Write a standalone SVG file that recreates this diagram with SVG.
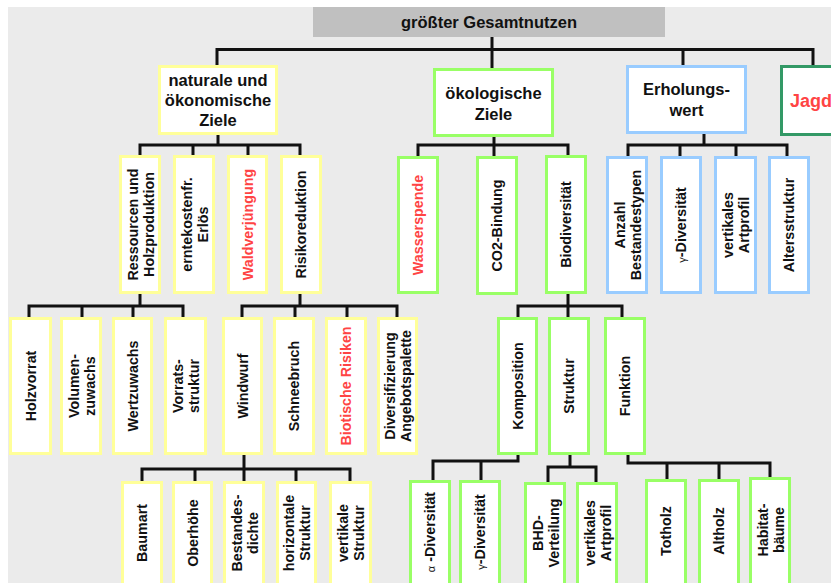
<svg xmlns="http://www.w3.org/2000/svg" width="831" height="583" viewBox="0 0 831 583">
<style>
.bg{fill:#ebebeb}
rect.n{fill:#ffffff;stroke-width:3}
.y{stroke:#ffff99}
.g{stroke:#99ff66}
.b{stroke:#99ccff}
.dg{stroke:#339966}
text{font-family:"Liberation Sans",Arial,sans-serif;font-weight:bold;fill:#111111}
.h{font-size:16.5px;text-anchor:middle}
.v{font-size:14.3px;text-anchor:middle}
.red{fill:#ff4444}
.gr{font-size:11px;font-weight:normal}
#connectors path{fill:none;stroke:#111111;stroke-width:3}
</style>
<rect class="bg" x="8" y="7" width="823" height="576"/>
<g id="connectors">
<path d="M492,37V68"/>
<path d="M217,65V49.5H813V65"/>
<path d="M683,49.5V65"/>
<path d="M218,135V145"/>
<path d="M140,155V145H300V155M193,145V155M248,145V155"/>
<path d="M494,137V156"/>
<path d="M418,156V145H568V155"/>
<path d="M704,134V145"/>
<path d="M628,156V145H787V156M680,145V156M736,145V156"/>
<path d="M140,293V306"/>
<path d="M29,317V306H183V317M82,306V317M133,306V317"/>
<path d="M300,293V306"/>
<path d="M242,317V306H397V317M295,306V317M347,306V317"/>
<path d="M568,294V317"/>
<path d="M518,317V306H622V317"/>
<path d="M244,455V481"/>
<path d="M142,481V469H350V481M195,469V481M296,469V481"/>
<path d="M518,455V461H433V480M481,461V480"/>
<path d="M570,455V467"/>
<path d="M548,482V467H596V482"/>
<path d="M628,455V463H770V477M667,463V479M719,463V479"/>
</g>
<g id="title">
<rect x="313" y="7" width="352" height="30" fill="#c0c0c0"/>
<text class="h" x="489" y="28">größter Gesamtnutzen</text>
</g>
<g id="naturale">
<rect class="n y" x="159.5" y="66.5" width="117" height="67"/>
<text class="h" x="218" y="86">naturale und</text>
<text class="h" x="218" y="106">ökonomische</text>
<text class="h" x="218" y="126">Ziele</text>
</g>
<g id="oekologische">
<rect class="n g" x="434.5" y="69.5" width="118" height="66"/>
<text class="h" x="493.5" y="99">ökologische</text>
<text class="h" x="493.5" y="120">Ziele</text>
</g>
<g id="erholungswert">
<rect class="n b" x="627.5" y="66.5" width="118" height="66"/>
<text class="h" x="686.5" y="95">Erholungs-</text>
<text class="h" x="686.5" y="116">wert</text>
</g>
<g id="jagd">
<rect class="n dg" x="781.5" y="66.5" width="120" height="68"/>
<text x="790" y="107" font-size="18px" class="red">Jagd</text>
</g>
<!-- Level 2 -->
<g id="ressourcen">
<rect class="n y" x="120.5" y="156.5" width="39" height="136"/>
<text class="v" transform="translate(140,224.5) rotate(-90)"><tspan x="0" y="-2.5">Ressourcen und</tspan><tspan x="0" y="13.5">Holzproduktion</tspan></text>
</g>
<g id="erntekosten">
<rect class="n y" x="174.5" y="156.5" width="39" height="136"/>
<text class="v" transform="translate(194,224.5) rotate(-90)"><tspan x="0" y="-2.5">erntekostenfr.</tspan><tspan x="0" y="13.5">Erlös</tspan></text>
</g>
<g id="waldverjuengung">
<rect class="n y" x="228.5" y="156.5" width="38" height="136"/>
<text class="v red" transform="translate(247.5,224.5) rotate(-90)" x="0" y="5">Waldverjüngung</text>
</g>
<g id="risikoreduktion">
<rect class="n y" x="281.5" y="156.5" width="39" height="136"/>
<text class="v" transform="translate(301,224.5) rotate(-90)" x="0" y="5">Risikoreduktion</text>
</g>
<g id="wasserspende">
<rect class="n g" x="398.5" y="157.5" width="39" height="135"/>
<text class="v red" transform="translate(418,225) rotate(-90)" x="0" y="5">Wasserspende</text>
</g>
<g id="co2">
<rect class="n g" x="477.5" y="157.5" width="39" height="136"/>
<text class="v" transform="translate(497,225.5) rotate(-90)" x="0" y="5">CO2-Bindung</text>
</g>
<g id="biodiversitaet">
<rect class="n g" x="546.5" y="156.5" width="39" height="136"/>
<text class="v" transform="translate(566,224.5) rotate(-90)" x="0" y="5">Biodiversität</text>
</g>
<g id="anzahl">
<rect class="n b" x="607.5" y="157.5" width="39" height="135"/>
<text class="v" transform="translate(627,225) rotate(-90)"><tspan x="0" y="-2.5">Anzahl</tspan><tspan x="0" y="13.5">Bestandestypen</tspan></text>
</g>
<g id="gamma1">
<rect class="n b" x="661.5" y="157.5" width="39" height="135"/>
<text class="v" transform="translate(681,225) rotate(-90)" x="0" y="5"><tspan class="gr">γ</tspan>-Diversität</text>
</g>
<g id="vertartprofil1">
<rect class="n b" x="715.5" y="157.5" width="40" height="135"/>
<text class="v" transform="translate(735.5,225) rotate(-90)"><tspan x="0" y="-2.5">vertikales</tspan><tspan x="0" y="13.5">Artprofil</tspan></text>
</g>
<g id="altersstruktur">
<rect class="n b" x="769.5" y="157.5" width="39" height="135"/>
<text class="v" transform="translate(789,225) rotate(-90)" x="0" y="5">Altersstruktur</text>
</g>
<!-- Level 3 -->
<g id="holzvorrat">
<rect class="n y" x="10.5" y="318.5" width="40" height="135"/>
<text class="v" transform="translate(30.5,386) rotate(-90)" x="0" y="5">Holzvorrat</text>
</g>
<g id="volumenzuwachs">
<rect class="n y" x="61.5" y="318.5" width="39" height="135"/>
<text class="v" transform="translate(81,386) rotate(-90)"><tspan x="0" y="-2.5">Volumen-</tspan><tspan x="0" y="13.5">zuwachs</tspan></text>
</g>
<g id="wertzuwachs">
<rect class="n y" x="113.5" y="318.5" width="38" height="135"/>
<text class="v" transform="translate(132.5,386) rotate(-90)" x="0" y="5">Wertzuwachs</text>
</g>
<g id="vorratsstruktur">
<rect class="n y" x="165.5" y="318.5" width="40" height="135"/>
<text class="v" transform="translate(185.5,386) rotate(-90)"><tspan x="0" y="-2.5">Vorrats-</tspan><tspan x="0" y="13.5">struktur</tspan></text>
</g>
<g id="windwurf">
<rect class="n y" x="223.5" y="318.5" width="38" height="135"/>
<text class="v" transform="translate(242.5,386) rotate(-90)" x="0" y="5">Windwurf</text>
</g>
<g id="schneebruch">
<rect class="n y" x="274.5" y="318.5" width="39" height="135"/>
<text class="v" transform="translate(294,386) rotate(-90)" x="0" y="5">Schneebruch</text>
</g>
<g id="biotische">
<rect class="n y" x="326.5" y="318.5" width="39" height="135"/>
<text class="v red" transform="translate(346,386) rotate(-90)" x="0" y="5">Biotische Risiken</text>
</g>
<g id="diversifizierung">
<rect class="n y" x="378.5" y="318.5" width="38" height="135"/>
<text class="v" transform="translate(397.5,386) rotate(-90)"><tspan x="0" y="-2.5">Diversifizierung</tspan><tspan x="0" y="13.5">Angebotspalette</tspan></text>
</g>
<g id="komposition">
<rect class="n g" x="498.5" y="318.5" width="38" height="135"/>
<text class="v" transform="translate(517.5,386) rotate(-90)" x="0" y="5">Komposition</text>
</g>
<g id="struktur">
<rect class="n g" x="549.5" y="318.5" width="39" height="135"/>
<text class="v" transform="translate(569,386) rotate(-90)" x="0" y="5">Struktur</text>
</g>
<g id="funktion">
<rect class="n g" x="605.5" y="318.5" width="39" height="135"/>
<text class="v" transform="translate(625,386) rotate(-90)" x="0" y="5">Funktion</text>
</g>
<!-- Level 4 -->
<g id="baumart">
<rect class="n y" x="122.5" y="482.5" width="39" height="110"/>
<text class="v" transform="translate(142,533) rotate(-90)" x="0" y="5">Baumart</text>
</g>
<g id="oberhoehe">
<rect class="n y" x="173.5" y="482.5" width="38" height="110"/>
<text class="v" transform="translate(192.5,533) rotate(-90)" x="0" y="5">Oberhöhe</text>
</g>
<g id="bestandesdichte">
<rect class="n y" x="224.5" y="482.5" width="39" height="110"/>
<text class="v" transform="translate(244,533) rotate(-90)"><tspan x="0" y="-2.5">Bestandes-</tspan><tspan x="0" y="13.5">dichte</tspan></text>
</g>
<g id="horizontale">
<rect class="n y" x="277.5" y="482.5" width="38" height="110"/>
<text class="v" transform="translate(296.5,533) rotate(-90)"><tspan x="0" y="-2.5">horizontale</tspan><tspan x="0" y="13.5">Struktur</tspan></text>
</g>
<g id="vertikalestruktur">
<rect class="n y" x="330.5" y="482.5" width="40" height="110"/>
<text class="v" transform="translate(350.5,533) rotate(-90)"><tspan x="0" y="-2.5">vertikale</tspan><tspan x="0" y="13.5">Struktur</tspan></text>
</g>
<g id="alpha">
<rect class="n g" x="410.5" y="481.5" width="39" height="110"/>
<text class="v" transform="translate(430,532) rotate(-90)" x="0" y="5"><tspan class="gr">α</tspan> -Diversität</text>
</g>
<g id="gamma2">
<rect class="n g" x="460.5" y="481.5" width="39" height="110"/>
<text class="v" transform="translate(480,532) rotate(-90)" x="0" y="5"><tspan class="gr">γ</tspan>-Diversität</text>
</g>
<g id="bhd">
<rect class="n g" x="525.5" y="483.5" width="39" height="110"/>
<text class="v" transform="translate(545,533) rotate(-90)"><tspan x="0" y="-2.5">BHD-</tspan><tspan x="0" y="13.5">Verteilung</tspan></text>
</g>
<g id="vertartprofil2">
<rect class="n g" x="577.5" y="483.5" width="39" height="110"/>
<text class="v" transform="translate(597,533) rotate(-90)"><tspan x="0" y="-2.5">vertikales</tspan><tspan x="0" y="13.5">Artprofil</tspan></text>
</g>
<g id="totholz">
<rect class="n g" x="646.5" y="480.5" width="39" height="110"/>
<text class="v" transform="translate(666,531) rotate(-90)" x="0" y="5">Totholz</text>
</g>
<g id="altholz">
<rect class="n g" x="699.5" y="480.5" width="39" height="110"/>
<text class="v" transform="translate(719,531) rotate(-90)" x="0" y="5">Altholz</text>
</g>
<g id="habitatbaeume">
<rect class="n g" x="750.5" y="478.5" width="39" height="110"/>
<text class="v" transform="translate(770,530) rotate(-90)"><tspan x="0" y="-2.5">Habitat-</tspan><tspan x="0" y="13.5">bäume</tspan></text>
</g>
</svg>
